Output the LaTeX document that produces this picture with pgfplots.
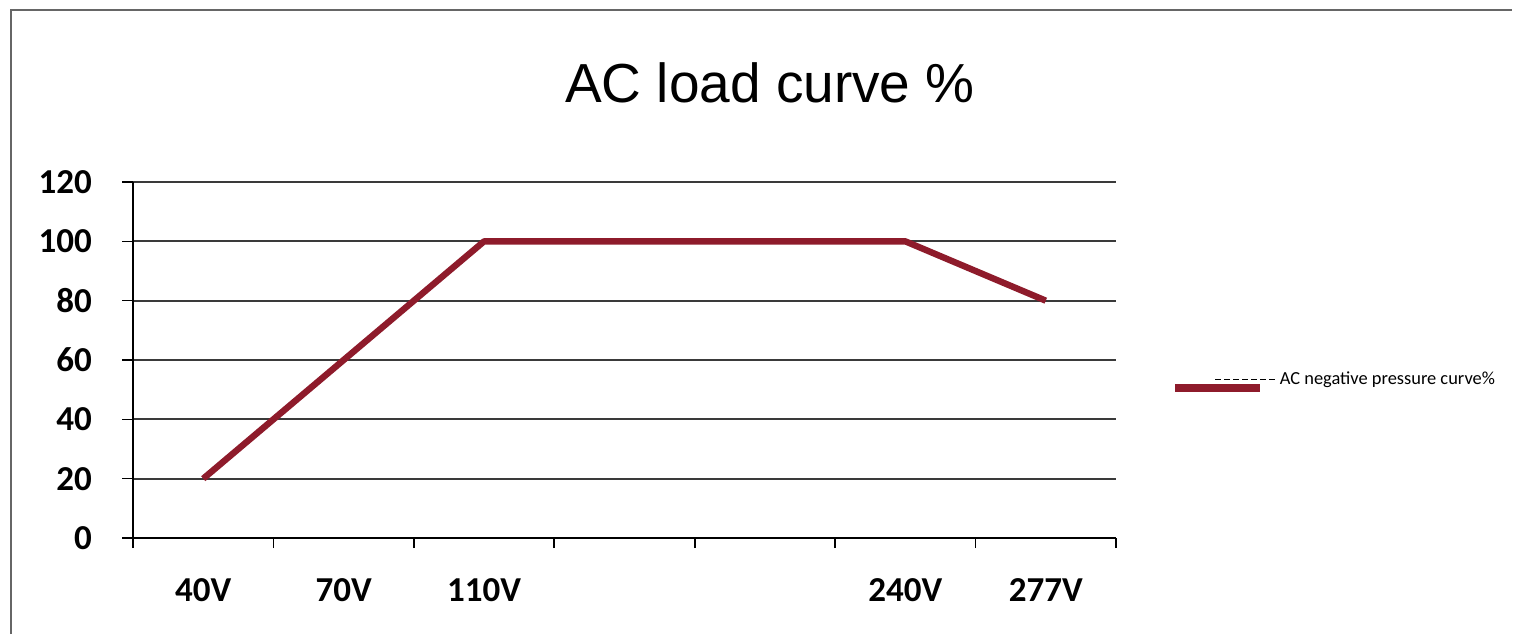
\documentclass[border=0pt]{standalone}
\usepackage{pgfplots}
\pgfplotsset{compat=1.18}
\usepackage{fontspec}
\setmainfont{Liberation Sans}
\newfontfamily\carlito{Carlito}
\definecolor{loadred}{HTML}{8E1B2B}
\definecolor{gridgray}{HTML}{3A3A3A}

\begin{document}
\begin{tikzpicture}
% picture scale: 1 px of the reference = 0.5pt
\useasboundingbox (0,0) rectangle (757.5pt,317pt);
\draw[gray!80!black, line width=1.2pt] (5.5pt,0) -- (5.5pt,312pt) -- (756pt,312pt);
\node[anchor=base, font=\fontsize{27.5}{30}\selectfont, inner sep=0pt] at (385pt,266pt) {AC load curve \%};
\begin{axis}[
    at={(66.5pt,48pt)}, anchor=south west,
    scale only axis,
    width=491.5pt, height=178pt,
    xmin=-0.5, xmax=6.5,
    ymin=0, ymax=120,
    xtick={0,...,6},
    xticklabels={40V,70V,110V,,,240V,277V},
    minor xtick={-0.5,0.5,...,6.5},
    ytick={0,20,...,120},
    axis x line*=bottom,
    axis y line*=left,
    axis line style={black, line width=0.9pt, -},
    tick align=outside,
    major tick length=5.5pt,
    minor tick length=5pt,
    major x tick style={draw=none},
    minor x tick style={black, line width=0.8pt},
    y tick style={black, line width=0.8pt},
    ymajorgrids=true,
    grid style={gridgray, line width=0.9pt},
    /pgf/number format/assume math mode=true,
    xticklabel style={font=\carlito\bfseries\fontsize{17.5}{18}\selectfont, yshift=-11pt},
    yticklabel style={font=\carlito\bfseries\fontsize{17.5}{18}\selectfont, xshift=-11.5pt},
    legend style={at={(1.056,0.444)}, anchor=west, draw=none, fill=none, inner sep=0pt,
        font=\carlito\fontsize{9.2}{10}\selectfont, cells={anchor=west},
        /tikz/every odd column/.style={inner xsep=0pt}},
    legend image code/.code={
        \draw[line width=4pt, color=loadred] (0pt,-4.3pt) -- (42.5pt,-4.3pt);
        \draw[line width=0.5pt, black, dash pattern=on 3pt off 1.5pt] (20pt,0pt) -- (50pt,0pt);
    },
    clip=false,
]
\addplot[loadred, line width=3.2pt, line join=round] coordinates {
    (0,20) (1,60) (2,100) (3,100) (4,100) (5,100) (6,80)
};
\addlegendentry{AC negative pressure curve\%}
\end{axis}
\end{tikzpicture}
\end{document}
